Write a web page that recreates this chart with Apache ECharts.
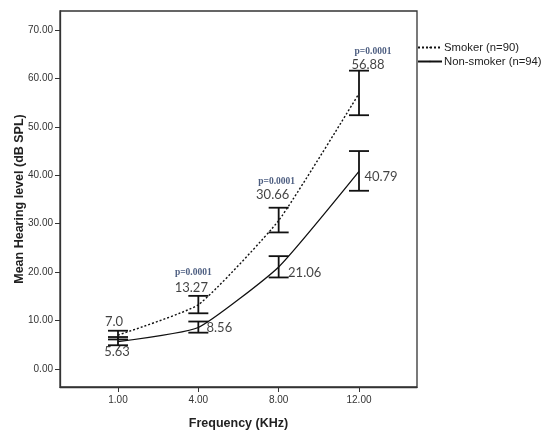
<!DOCTYPE html>
<html><head><meta charset="utf-8">
<script src="https://cdn.jsdelivr.net/npm/echarts@6/dist/echarts.min.js"></script>
<style>html,body{margin:0;padding:0;background:#fff}#c{width:545px;height:430px}</style>
</head><body><div id="c"></div>
<script>
// ---- data ----
const categories = ['1.00', '4.00', '8.00', '12.00'];
const smokerMean = [7.0, 13.27, 30.66, 56.88];
const smokerLow = [6.1, 11.5, 28.2, 52.4];
const smokerHigh = [7.9, 15.1, 33.3, 61.6];
const smokerText = ['7.0', '13.27', '30.66', '56.88'];
const nonSmokerMean = [5.63, 8.56, 21.06, 40.79];
const nonSmokerLow = [4.9, 7.5, 18.9, 36.8];
const nonSmokerHigh = [6.6, 9.8, 23.3, 45.0];
const nonSmokerText = ['5.63', '8.56', '21.06', '40.79'];
const pText = ['', 'p=0.0001', 'p=0.0001', 'p=0.0001'];
const yTicks = [0, 10, 20, 30, 40, 50, 60, 70];

// label offsets (styling)
const smokerOff = [[-4, -13], [-7, -17], [-6, -26], [9, -29]];
const pOff = [[0, 0], [-5, -32], [-2, -39], [14, -42]];
const nonOff = [[-1, 10], [21, 0], [26, 6], [22, 5]];

const xIdx = categories.map((c, i) => i);
const lineData = (m) => m.map((v, i) => [i, v]);

function errSeries(low, high) {
  return {
    type: 'custom', z: 5,
    data: low.map((l, i) => [i, l, high[i]]),
    renderItem: function (params, api) {
      const x = api.value(0);
      const p1 = api.coord([x, api.value(1)]);
      const p2 = api.coord([x, api.value(2)]);
      const hw = 10;
      const st = { stroke: '#111', lineWidth: 1.8 };
      return {
        type: 'group', children: [
          { type: 'line', shape: { x1: p1[0], y1: p1[1], x2: p2[0], y2: p2[1] }, style: st },
          { type: 'line', shape: { x1: p1[0] - hw, y1: p1[1], x2: p1[0] + hw, y2: p1[1] }, style: st },
          { type: 'line', shape: { x1: p2[0] - hw, y1: p2[1], x2: p2[0] + hw, y2: p2[1] }, style: st }
        ]
      };
    }
  };
}

function labelSeries(means, texts, offs, style) {
  return {
    type: 'scatter', symbolSize: 0, z: 6, silent: true,
    data: means.map((v, i) => ({
      value: [i, v],
      label: { show: texts[i] !== '', position: 'inside', offset: offs[i], formatter: texts[i] }
    })),
    label: Object.assign({ align: 'center', verticalAlign: 'middle' }, style)
  };
}

const chart = echarts.init(document.getElementById('c'), null, { renderer: 'canvas' });
const valStyle = { fontFamily: 'Lato', fontSize: 13, color: '#111' };
chart.setOption({
  animation: false,
  backgroundColor: '#fff',
  grid: { left: 60, top: 11, right: 128, bottom: 43, show: true, borderColor: '#333', borderWidth: 1.3, outerBoundsMode: 'none' },
  legend: {
    orient: 'vertical', left: 412, top: 37, itemWidth: 24, itemHeight: 2, itemGap: 3,
    textStyle: { fontFamily: 'Liberation Sans', fontSize: 11.3, color: '#222', padding: [0, 0, 0, -3] },
    data: [{ name: 'Smoker (n=90)' }, { name: 'Non-smoker (n=94)' }]
  },
  xAxis: {
    type: 'value', min: -0.722, max: 3.722,
    name: 'Frequency (KHz)', nameLocation: 'middle', nameGap: 30, nameMoveOverlap: false,
    nameTextStyle: { fontFamily: 'Liberation Sans', fontWeight: 'bold', fontSize: 12.5, color: '#222' },
    splitLine: { show: false },
    axisLine: { show: true, onZero: false, lineStyle: { color: '#333', width: 1.3 } },
    axisTick: { show: true, length: 5, customValues: xIdx, lineStyle: { color: '#333' } },
    axisLabel: { customValues: xIdx, margin: 8, formatter: (v) => categories[Math.round(v)], fontFamily: 'Liberation Sans', fontSize: 10, color: '#333' }
  },
  yAxis: {
    type: 'value', min: -3.72, max: 73.92,
    name: 'Mean Hearing level (dB SPL)', nameLocation: 'middle', nameGap: 34, nameRotate: 90, nameMoveOverlap: false,
    nameTextStyle: { fontFamily: 'Liberation Sans', fontWeight: 'bold', fontSize: 12.5, color: '#222' },
    splitLine: { show: false },
    axisLine: { show: true, onZero: false, lineStyle: { color: '#333', width: 1.3 } },
    axisTick: { show: true, length: 5, customValues: yTicks, lineStyle: { color: '#333' } },
    axisLabel: { customValues: yTicks, margin: 7, formatter: (v) => v.toFixed(2), fontFamily: 'Liberation Sans', fontSize: 10, color: '#333' }
  },
  series: [
    {
      name: 'Smoker (n=90)', type: 'line', data: lineData(smokerMean), symbol: 'none', smooth: 0.15,
      color: '#111', lineStyle: { color: '#111', width: 1.4, type: [2, 2] }
    },
    {
      name: 'Non-smoker (n=94)', type: 'line', data: lineData(nonSmokerMean), symbol: 'none', smooth: 0.15,
      color: '#111', lineStyle: { color: '#111', width: 1.3, type: 'solid' }
    },
    errSeries(smokerLow, smokerHigh),
    errSeries(nonSmokerLow, nonSmokerHigh),
    labelSeries(smokerMean, smokerText, smokerOff, valStyle),
    labelSeries(nonSmokerMean, nonSmokerText, nonOff, valStyle),
    labelSeries(smokerMean, pText, pOff, { fontFamily: 'Liberation Serif', fontWeight: 'bold', fontSize: 9.5, color: '#1f3560' })
  ]
});
</script></body></html>
